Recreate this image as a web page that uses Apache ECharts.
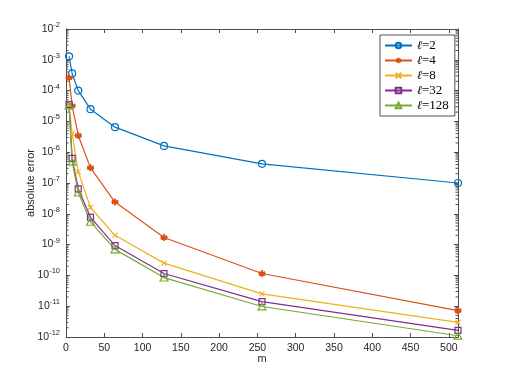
<!DOCTYPE html>
<html>
<head>
<meta charset="utf-8">
<script src="https://cdn.jsdelivr.net/npm/echarts@6/dist/echarts.min.js"></script>
<style>
  html, body { margin: 0; padding: 0; background: #fff; }
  #chart { width: 506px; height: 379px; }
</style>
</head>
<body>
<div id="chart"></div>
<script>
// data
var mVals = [4, 8, 16, 32, 64, 128, 256, 512];
var err_l2 = [1.3e-3, 3.6e-4, 1.0e-4, 2.5e-5, 6.5e-6, 1.6e-6, 4.2e-7, 1.0e-7];
var err_l4 = [2.6e-4, 3.2e-5, 3.5e-6, 3.1e-7, 2.4e-8, 1.7e-9, 1.15e-10, 7.2e-12];
var err_l8 = [3.4e-5, 4.0e-6, 2.3e-7, 1.6e-8, 2.0e-9, 2.5e-10, 2.5e-11, 3.0e-12];
var err_l32 = [3.5e-5, 6.3e-7, 6.4e-8, 7.7e-9, 9.3e-10, 1.15e-10, 1.4e-11, 1.65e-12];
var err_l128 = [3.3e-5, 4.9e-7, 4.9e-8, 5.5e-9, 7.0e-10, 8.5e-11, 9.8e-12, 1.1e-12];
var seriesNames = ['ℓ=2', 'ℓ=4', 'ℓ=8', 'ℓ=32', 'ℓ=128'];

var xMin = 0, xMax = 512, xStep = 50;
var yMinExp = -12, yMaxExp = -2;

var axisCol = '#4d4d4d';
var textCol = '#262626';
var colors = ['#0072BD', '#D95319', '#EDB120', '#7E2F8E', '#77AC30'];

function pairs(ys) {
  return mVals.map(function (m, i) { return [m, ys[i]]; });
}

// minor log ticks (2..9 x 10^k), positions come from the axis
var minorVals = [];
for (var e = yMinExp; e < yMaxExp; e++) {
  for (var k = 2; k <= 9; k++) minorVals.push([xMin, k * Math.pow(10, e)]);
}

var chart = echarts.init(document.getElementById('chart'), null, { renderer: 'canvas' });

// MATLAB-like markers: outlines only
var circle = 'path://M1,0A1,1 0 1 1 -1,0A1,1 0 1 1 1,0Z';
var asterisk = 'path://M0,-1L0,1M-0.87,-0.5L0.87,0.5M-0.87,0.5L0.87,-0.5M-1,0L1,0';
var cross = 'path://M-1,-1L1,1M-1,1L1,-1';
var square = 'path://M-1,-1L1,-1L1,1L-1,1Z';
var triangle = 'path://M0,-1L0.87,0.5L-0.87,0.5Z';
var noFill = 'rgba(0,0,0,0)';

function lineSeries(name, ys, col, symbol, size, bw) {
  return {
    name: name,
    type: 'line',
    data: pairs(ys),
    symbol: symbol,
    symbolSize: size,
    symbolKeepAspect: true,
    showAllSymbol: true,
    lineStyle: { color: col, width: 1.2 },
    itemStyle: { color: noFill, borderColor: col, borderWidth: bw || 1.2 },
    emphasis: { disabled: true },
    z: 3
  };
}

chart.setOption({
  animation: false,
  backgroundColor: '#fff',
  textStyle: { fontFamily: 'Liberation Sans, Arial, sans-serif' },
  grid: { left: 66, right: 48, top: 29, bottom: 42 },
  legend: {
    data: seriesNames,
    orient: 'vertical',
    left: 380,
    top: 35,
    width: 76,
    padding: [4, 6, 4, 4],
    itemWidth: 27,
    itemHeight: 7,
    itemGap: 2,
    backgroundColor: '#fff',
    borderColor: '#262626',
    borderWidth: 0.8,
    formatter: function (n) { return '{l|ℓ}{n|' + n.slice(1) + '}'; },
    textStyle: {
      color: '#000',
      rich: {
        l: { fontFamily: 'DejaVu Serif', fontStyle: 'italic', fontSize: 12, lineHeight: 14 },
        n: { fontFamily: 'Liberation Serif', fontSize: 13, lineHeight: 14 }
      }
    }
  },
  xAxis: [{
    type: 'value',
    min: xMin, max: xMax, interval: xStep,
    name: 'm',
    nameLocation: 'middle',
    nameGap: 16,
    nameMoveOverlap: false,
    nameTextStyle: { color: textCol, fontSize: 11 },
    axisLine: { show: true, onZero: false, lineStyle: { color: axisCol, width: 1 } },
    axisTick: { inside: true, length: 4, lineStyle: { color: axisCol } },
    axisLabel: { color: textCol, fontSize: 10.5, margin: 6, showMaxLabel: false },
    splitLine: { show: false }
  }, {
    type: 'value',
    position: 'top',
    min: xMin, max: xMax, interval: xStep,
    axisLine: { show: true, onZero: false, lineStyle: { color: axisCol, width: 1 } },
    axisTick: { inside: true, length: 4, lineStyle: { color: axisCol } },
    axisLabel: { show: false },
    splitLine: { show: false }
  }],
  yAxis: [{
    type: 'log',
    logBase: 10,
    min: Math.pow(10, yMinExp), max: Math.pow(10, yMaxExp),
    interval: 1,
    name: 'absolute error',
    nameLocation: 'middle',
    nameGap: 30,
    nameMoveOverlap: false,
    nameTextStyle: { color: textCol, fontSize: 11 },
    axisLine: { show: true, onZero: false, lineStyle: { color: axisCol, width: 1 } },
    axisTick: { inside: true, length: 4, lineStyle: { color: axisCol } },
    axisLabel: {
      color: textCol,
      margin: 6,
      formatter: function (v) {
        var ex = Math.round(Math.log10(v));
        return '{b|10}{s|' + ex + '}';
      },
      rich: {
        b: { fontSize: 10.5, color: textCol },
        s: { fontSize: 7.5, color: textCol, padding: [0, 0, 8, 0] }
      }
    },
    splitLine: { show: false }
  }, {
    type: 'log',
    logBase: 10,
    position: 'right',
    min: Math.pow(10, yMinExp), max: Math.pow(10, yMaxExp),
    interval: 1,
    axisLine: { show: true, onZero: false, lineStyle: { color: axisCol, width: 1 } },
    axisTick: { inside: true, length: 4, lineStyle: { color: axisCol } },
    axisLabel: { show: false },
    splitLine: { show: false }
  }],
  series: [
    lineSeries(seriesNames[0], err_l2, colors[0], circle, 7),
    lineSeries(seriesNames[1], err_l4, colors[1], asterisk, 7, 1.8),
    lineSeries(seriesNames[2], err_l8, colors[2], cross, 5),
    lineSeries(seriesNames[3], err_l32, colors[3], square, 6),
    lineSeries(seriesNames[4], err_l128, colors[4], triangle, 8),
    {
      type: 'custom',
      silent: true,
      clip: false,
      data: minorVals,
      renderItem: function (params, api) {
        var y = api.coord([xMin, api.value(1)])[1];
        var xl = api.coord([xMin, api.value(1)])[0];
        var xr = api.coord([xMax, api.value(1)])[0];
        return {
          type: 'group',
          children: [
            { type: 'line', shape: { x1: xl, y1: y, x2: xl + 2.5, y2: y }, style: { stroke: axisCol, lineWidth: 1 } },
            { type: 'line', shape: { x1: xr, y1: y, x2: xr - 2.5, y2: y }, style: { stroke: axisCol, lineWidth: 1 } }
          ]
        };
      },
      z: 1
    }
  ]
});
</script>
</body>
</html>
